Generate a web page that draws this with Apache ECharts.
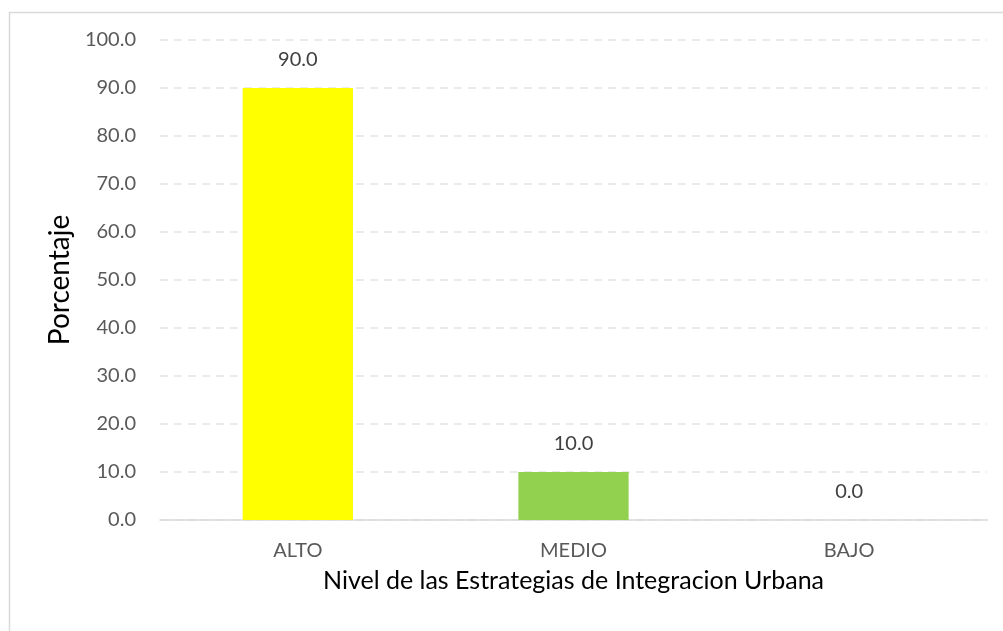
<!DOCTYPE html>
<html><head><meta charset="utf-8">
<script src="https://cdn.jsdelivr.net/npm/echarts@6/dist/echarts.min.js"></script>
<style>html,body{margin:0;padding:0;background:#fff}#c{width:1003px;height:631px}</style>
</head><body><div id="c"></div>
<script>
const categories = ['ALTO', 'MEDIO', 'BAJO'];
const values = [90.0, 10.0, 0.0];
const barColors = ['#FFFF00', '#92D050', '#5B9BD5'];
const xAxisTitle = 'Nivel de las Estrategias de Integracion Urbana';
const yAxisTitle = 'Porcentaje';

const chart = echarts.init(document.getElementById('c'), null, {renderer: 'canvas'});
const font = 'Lato, "Open Sans", sans-serif';
chart.setOption({
  animation: false,
  backgroundColor: '#fff',
  graphic: [{
    type: 'rect', left: 7, top: 10, shape: {width: 1010, height: 640},
    style: {fill: 'none', stroke: '#d9d9d9', lineWidth: 1.5}, silent: true
  }],
  grid: {left: 160, right: 16, top: 40, bottom: 111},
  xAxis: {
    type: 'category', data: categories,
    axisLine: {lineStyle: {color: '#d9d9d9', width: 1.5}},
    axisTick: {show: false},
    axisLabel: {color: '#595959', fontSize: 20, fontFamily: font, margin: 21},
    name: xAxisTitle, nameLocation: 'middle', nameGap: 48,
    nameTextStyle: {color: '#000', fontSize: 25, fontFamily: font}
  },
  yAxis: {
    type: 'value', min: 0, max: 100, interval: 10,
    axisLine: {show: false}, axisTick: {show: false},
    axisLabel: {color: '#595959', fontSize: 20, fontFamily: font, margin: 24,
      formatter: v => v.toFixed(1)},
    splitLine: {lineStyle: {color: '#e3e3e3', type: [8, 6], width: 1.5}},
    name: yAxisTitle, nameLocation: 'middle', nameGap: 84, nameRotate: 90,
    nameTextStyle: {color: '#000', fontSize: 28, fontFamily: font}
  },
  series: [{
    type: 'bar', barWidth: '40%',
    data: values.map((v, i) => ({value: v, itemStyle: {color: barColors[i]}})),
    label: {show: true, position: 'top', distance: 18, color: '#404040', fontSize: 20,
      fontFamily: font, formatter: p => p.value.toFixed(1)}
  }]
});
</script></body></html>
